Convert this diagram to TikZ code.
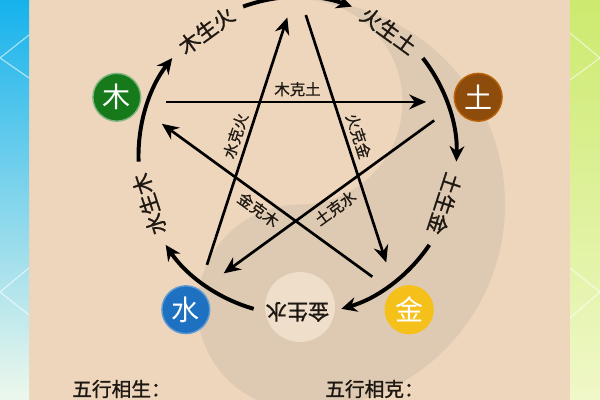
\documentclass[tikz,border=0pt]{standalone}
\usepackage{fontspec}
\newfontfamily\cjk{Noto Sans CJK SC}
\newfontfamily\cjkBold[FakeBold=1.2]{Noto Sans CJK SC}
\newfontfamily\cjkMedium[FakeBold=0.6]{Noto Sans CJK SC}
\usetikzlibrary{arrows.meta, shapes.geometric}
\definecolor{parchment}{RGB}{238,214,189}
\definecolor{yinShade}{RGB}{222,201,178}
\definecolor{yangDot}{RGB}{238,222,202}
\definecolor{woodGreen}{RGB}{22,122,26}
\definecolor{earthBrown}{RGB}{142,76,12}
\definecolor{metalGold}{RGB}{246,192,26}
\definecolor{waterBlue}{RGB}{30,112,192}
\definecolor{skyTop}{RGB}{22,178,236}
\definecolor{skyMid}{RGB}{96,204,240}
\definecolor{skyBottom}{RGB}{238,248,236}
\definecolor{limeTop}{RGB}{204,234,110}
\definecolor{limeBottom}{RGB}{240,248,200}
\definecolor{inkText}{RGB}{30,24,18}
\tikzstyle{element} = [circle, minimum size=34pt, inner sep=0pt, line width=1pt, text=white, font=\cjk\fontsize{20}{20}\selectfont]
\tikzstyle{shengArrow} = [line width=2.8pt, -{Stealth[length=11pt, width=10.5pt]}]
\tikzstyle{keArrow} = [line width=1.9pt, -{Stealth[length=12pt, width=10.5pt]}, shorten <=35pt, shorten >=37pt]
\tikzstyle{shengLabel} = [font=\cjkBold\fontsize{15}{15}\selectfont, text=inkText, inner sep=0pt]
\tikzstyle{keLabel} = [font=\cjkMedium\fontsize{11}{11}\selectfont, text=inkText, inner sep=3pt, midway, sloped]
\tikzstyle{titleText} = [font=\cjkBold\fontsize{14}{14}\selectfont, text=inkText, inner sep=0pt, anchor=west]
\tikzstyle{chevron} = [white, opacity=0.6, line width=0.8pt]

\begin{document}
\begin{tikzpicture}[x=0.025cm, y=0.025cm]
	\useasboundingbox (0,0) rectangle (600,400);
	\clip (0,0) rectangle (600,400);
	\fill [parchment] (0,0) rectangle (600,400);
	\coordinate (taiji) at (300,195.5);
	\fill [yinShade] ([shift={(0,205)}]taiji) arc[start angle=90, end angle=-90, radius=205]
		arc[start angle=270, end angle=90, radius=102.5]
		arc[start angle=270, end angle=450, radius=102.5] -- cycle;
	\fill [yangDot] ([shift={(0,-102.5)}]taiji) circle[radius=35];
	\shade [top color=skyTop, middle color=skyMid, bottom color=skyBottom] (0,0) rectangle (29,400);
	\shade [top color=limeTop, bottom color=limeBottom] (570,0) rectangle (600,400);
	\draw [chevron] (29,365) -- (0,342) -- (29,322);
	\draw [chevron] (29,132) -- (0,108) -- (29,85);
	\draw [chevron] (570,367) -- (600,342) -- (570,320);
	\draw [chevron] (570,132) -- (600,108) -- (570,82);

	\coordinate (centre) at (297.5,244);
	\node (wood) [element, fill=woodGreen, draw=woodGreen!55!white] at ([shift={(162:190)}]centre) {木};
	\coordinate (fireSpot) at ([shift={(90:190)}]centre);
	\node (earth) [element, fill=earthBrown, draw=earthBrown!60!orange] at ([shift={(18:190)}]centre) {土};
	\node (metal) [element, fill=metalGold, draw=metalGold] at ([shift={(-54:190)}]centre) {金};
	\node (water) [element, fill=waterBlue, draw=waterBlue!70!white] at ([shift={(-126:190)}]centre) {水};

	\draw [shengArrow] ([shift={(182:159)}]centre) arc[start angle=182, end angle=142, radius=159];
	\draw [shengArrow] ([shift={(110:159)}]centre) arc[start angle=110, end angle=70, radius=159];
	\draw [shengArrow] ([shift={(38:159)}]centre) arc[start angle=38, end angle=-2, radius=159];
	\draw [shengArrow] ([shift={(-34:159)}]centre) arc[start angle=-34, end angle=-74, radius=159];
	\draw [shengArrow] ([shift={(-106:159)}]centre) arc[start angle=-106, end angle=-146, radius=159];
	\node (woodFire) [shengLabel, rotate=36] at ([shift={(126:155)}]centre) {木生火};
	\node (fireEarth) [shengLabel, rotate=-36] at ([shift={(54:155)}]centre) {火生土};
	\node (earthMetal) [shengLabel, rotate=-108] at ([shift={(-18:155)}]centre) {土生金};
	\node (metalWater) [shengLabel, rotate=180] at ([shift={(-90:156)}]centre) {金生水};
	\node (waterWood) [shengLabel, rotate=108] at ([shift={(198:156)}]centre) {水生木};

	\draw [keArrow] ([yshift=-3.3pt]wood.center) -- node [keLabel, above] {木克土} ([yshift=-3.3pt]earth.center);
	\draw [keArrow] ([shift={(4.2pt,-1.4pt)}]water.center) -- node [keLabel, above] {水克火} ([shift={(4.2pt,-1.4pt)}]fireSpot);
	\draw [keArrow] ([shift={(-4.9pt,-1.6pt)}]fireSpot) -- node [keLabel, above] {火克金} ([shift={(-4.9pt,-1.6pt)}]metal.center);
	\draw [keArrow] ([shift={(-3pt,4.1pt)}]earth.center) -- node [keLabel, below] {土克水} ([shift={(-3pt,4.1pt)}]water.center);
	\draw [keArrow] ([shift={(2.1pt,2.9pt)}]metal.center) -- node [keLabel, below] {金克木} ([shift={(2.1pt,2.9pt)}]wood.center);

	\node (shengTitle) [titleText] at (72,11) {五行相生：};
	\node (keTitle) [titleText] at (325,11) {五行相克：};
\end{tikzpicture}
\end{document}
